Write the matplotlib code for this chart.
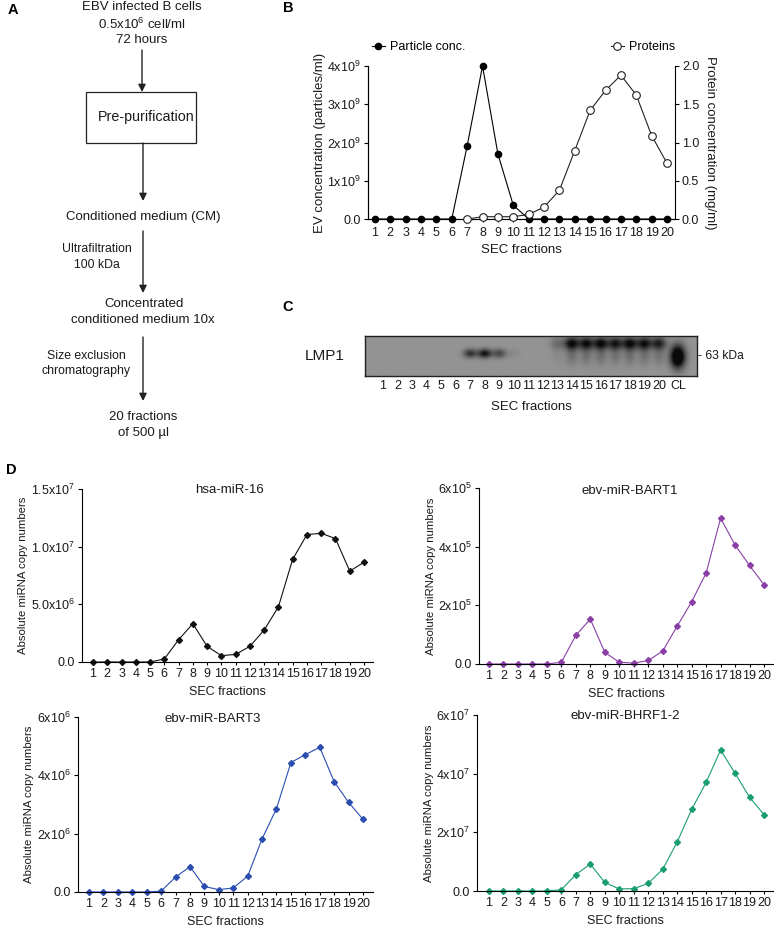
import numpy as np
import matplotlib
matplotlib.use('Agg')
import matplotlib.pyplot as plt
from matplotlib.patches import Rectangle

plt.rcParams['font.family'] = ['Liberation Sans', 'DejaVu Sans']
plt.rcParams['mathtext.fontset'] = 'custom'
plt.rcParams['mathtext.rm'] = 'Liberation Sans'
plt.rcParams['mathtext.it'] = 'Liberation Sans:italic'
plt.rcParams['mathtext.bf'] = 'Liberation Sans:bold'
plt.rcParams['mathtext.default'] = 'regular'
plt.rcParams['axes.linewidth'] = 0.8

# ---------------- data ----------------
fractions = list(range(1, 21))
frac_labels = [str(i) for i in fractions]

# Panel B
particle_conc = [0, 0, 0, 0, 0, 0, 1.91e9, 4.0e9, 1.70e9, 0.36e9,
                 0, 0, 0, 0, 0, 0, 0, 0, 0, 0]
protein_frac = list(range(7, 21))
protein_conc = [0.0, 0.03, 0.03, 0.03, 0.06, 0.155, 0.375, 0.895,
                1.42, 1.68, 1.88, 1.62, 1.09, 0.73]
b_left_ticks = [0, 1e9, 2e9, 3e9, 4e9]
b_left_labels = ['0.0', '1x10$^{9}$', '2x10$^{9}$', '3x10$^{9}$', '4x10$^{9}$']
b_right_ticks = [0, 0.5, 1.0, 1.5, 2.0]
b_right_labels = ['0.0', '0.5', '1.0', '1.5', '2.0']

# Panel C (western blot band intensities, 0..1)
blot_lanes = frac_labels + ['CL']
band_63kda = [0, 0, 0, 0, 0, 0, 0.7, 0.95, 0.55, 0.08,
              0, 0, 0, 0, 0, 0, 0, 0, 0, 0, 1.0]
band_upper = [0, 0, 0, 0, 0, 0, 0, 0, 0, 0,
              0, 0, 0.25, 0.9, 0.85, 0.9, 0.8, 0.9, 0.85, 0.75, 0]

# Panel D
mir16 = [0, 0, 0, 0, 0, 0.26e6, 1.93e6, 3.32e6, 1.36e6, 0.55e6,
         0.66e6, 1.36e6, 2.77e6, 4.79e6, 8.91e6, 11.05e6, 11.16e6, 10.7e6, 7.88e6, 8.65e6]
bart1 = [0, 0, 0, 0, 0, 0.06e5, 0.975e5, 1.53e5, 0.40e5, 0.06e5,
         0.03e5, 0.12e5, 0.44e5, 1.29e5, 2.12e5, 3.10e5, 4.97e5, 4.06e5, 3.36e5, 2.70e5]
bart3 = [0, 0, 0, 0, 0, 0.03e6, 0.51e6, 0.87e6, 0.19e6, 0.08e6,
         0.14e6, 0.54e6, 1.82e6, 2.86e6, 4.44e6, 4.71e6, 4.96e6, 3.78e6, 3.07e6, 2.49e6]
bhrf1 = [0, 0, 0, 0, 0, 0.045e7, 0.56e7, 0.92e7, 0.29e7, 0.07e7,
         0.08e7, 0.26e7, 0.74e7, 1.67e7, 2.78e7, 3.70e7, 4.81e7, 4.01e7, 3.20e7, 2.60e7]

d1_ticks = [0, 5e6, 1e7, 1.5e7]
d1_labels = ['0.0', '5.0x10$^{6}$', '1.0x10$^{7}$', '1.5x10$^{7}$']
d2_ticks = [0, 2e5, 4e5, 6e5]
d2_labels = ['0.0', '2x10$^{5}$', '4x10$^{5}$', '6x10$^{5}$']
d3_ticks = [0, 2e6, 4e6, 6e6]
d3_labels = ['0.0', '2x10$^{6}$', '4x10$^{6}$', '6x10$^{6}$']
d4_ticks = [0, 2e7, 4e7, 6e7]
d4_labels = ['0.0', '2x10$^{7}$', '4x10$^{7}$', '6x10$^{7}$']

# ---------------- figure ----------------
W, H = 774, 926
fig = plt.figure(figsize=(W / 100, H / 100), dpi=100)
TXT = '#1a1a1a'
FT = 9  # tick label size


def px(l, t, r, b):
    return [l / W, 1 - b / H, (r - l) / W, (b - t) / H]


# ---- Panel B ----
axB = fig.add_axes(px(368, 66, 675, 219))
axB2 = axB.twinx()
lp, = axB.plot(fractions, particle_conc, '-o', color='k', ms=4.5, lw=0.8,
               clip_on=False, zorder=3)
lq, = axB2.plot(protein_frac, protein_conc, '-o', color='#222222', mfc='white',
                mew=0.8, ms=5.5, lw=0.8, clip_on=False, zorder=4)
axB.set_xlim(0.55, 20.52)
axB.set_ylim(0, 4e9)
axB2.set_ylim(0, 2.0)
axB.set_xticks(fractions)
axB.set_xticklabels(frac_labels, fontsize=FT, color=TXT)
axB.set_yticks(b_left_ticks)
axB.set_yticklabels(b_left_labels, fontsize=FT, color=TXT)
axB2.set_yticks(b_right_ticks)
axB2.set_yticklabels(b_right_labels, fontsize=FT, color=TXT)
for a in (axB, axB2):
    a.spines['top'].set_visible(False)
axB.spines['right'].set_visible(False)
axB.tick_params(axis='x', length=2.5, width=0.8, pad=3)
axB.tick_params(axis='y', length=3, width=0.8, pad=2)
axB2.tick_params(axis='y', length=3, width=0.8, pad=2)
axB.set_xlabel('SEC fractions', fontsize=9.5, color=TXT, labelpad=4)
axB.set_ylabel('EV concentration (particles/ml)', fontsize=9.5, color=TXT, labelpad=1)
axB2.set_ylabel('Protein concentration (mg/ml)', fontsize=9.5, color=TXT,
                rotation=270, labelpad=12)
leg1 = axB2.legend(handles=[lp], labels=['Particle conc.'], loc='center left',
                   bbox_to_anchor=(372 / W, 1 - 47 / H), bbox_transform=fig.transFigure,
                   frameon=False, fontsize=9, handlelength=1.0, handletextpad=0.4,
                   borderpad=0, borderaxespad=0)
axB2.add_artist(leg1)
axB2.legend(handles=[lq], labels=['Proteins'], loc='center left',
            bbox_to_anchor=(611 / W, 1 - 47 / H), bbox_transform=fig.transFigure,
            frameon=False, fontsize=9, handlelength=1.0, handletextpad=0.4,
            borderpad=0, borderaxespad=0)

# ---- Panel C (blot) ----
lane_sp = 14.53
cx0 = 1 - 18 / lane_sp
cx1 = 20 + 38 / lane_sp
lane_x = list(fractions) + [20 + 19 / lane_sp]
axC = fig.add_axes(px(365, 336, 697, 376))
xs = np.linspace(cx0, cx1, 700)
ys = np.linspace(0, 1, 90)
XX, YY = np.meshgrid(xs, ys)
dark = np.zeros_like(XX)
for i, x0 in enumerate(lane_x):
    a = band_63kda[i]
    if a > 0:
        if blot_lanes[i] == 'CL':
            dark += 1.5 * a * np.exp(-((XX - x0) ** 2) / (2 * 0.36 ** 2)
                                     - ((YY - 0.47) ** 2) / (2 * 0.2 ** 2))
        else:
            dark += a * np.exp(-((XX - x0) ** 2) / (2 * 0.33 ** 2)
                               - ((YY - 0.55) ** 2) / (2 * 0.08 ** 2))
    b = band_upper[i]
    if b > 0:
        dark += 1.1 * b * np.exp(-((XX - x0) ** 2) / (2 * 0.36 ** 2)
                                 - ((YY - 0.8) ** 2) / (2 * 0.11 ** 2))
        dark += 0.3 * b * np.exp(-((XX - x0) ** 2) / (2 * 0.3 ** 2)
                                 - ((YY - 0.5) ** 2) / (2 * 0.17 ** 2))
dark = np.clip(dark, 0, 1)
img = 0.58 * (1 - 0.93 * dark)
axC.imshow(img, cmap='gray', vmin=0, vmax=1, extent=[cx0, cx1, 0, 1],
           origin='lower', aspect='auto', interpolation='bilinear')
axC.set_xlim(cx0, cx1)
axC.set_ylim(0, 1)
axC.set_xticks(lane_x)
axC.set_xticklabels(blot_lanes, fontsize=FT, color=TXT)
axC.set_yticks([])
axC.tick_params(axis='x', length=0, pad=3)
for s in axC.spines.values():
    s.set_linewidth(1.0)
    s.set_color('#202020')
axC.set_xlabel('SEC fractions', fontsize=9.5, color=TXT, labelpad=6)


# ---- Panel D ----
def dpanel(rect, xlim, vals, color, ticks, labels):
    ax = fig.add_axes(px(*rect))
    ax.plot(fractions, vals, '-D', color=color, ms=3, lw=0.8, clip_on=False)
    ax.set_xlim(*xlim)
    ax.set_ylim(0, ticks[-1])
    ax.set_xticks(fractions)
    ax.set_xticklabels(frac_labels, fontsize=FT, color=TXT)
    ax.set_yticks(ticks)
    ax.set_yticklabels(labels, fontsize=FT, color=TXT)
    ax.spines['top'].set_visible(False)
    ax.spines['right'].set_visible(False)
    ax.tick_params(axis='x', length=2.5, width=0.8, pad=2)
    ax.tick_params(axis='y', length=3, width=0.8, pad=2)
    ax.set_xlabel('SEC fractions', fontsize=9, color=TXT, labelpad=4)
    ax.set_ylabel('Absolute miRNA copy numbers', fontsize=8.2, color=TXT, labelpad=2)
    return ax


dpanel((82, 489, 373, 662), (0.23, 20.63), mir16, '#111111', d1_ticks, d1_labels)
dpanel((479, 488, 774, 664), (0.31, 20.69), bart1, '#8a3fa6', d2_ticks, d2_labels)
dpanel((78, 717, 373, 892), (0.24, 20.69), bart3, '#2a4db0', d3_ticks, d3_labels)
dpanel((477, 715, 774, 891), (0.17, 20.69), bhrf1, '#1a9e6e', d4_ticks, d4_labels)

# ---- overlay: panel A, letters, annotations ----
ov = fig.add_axes([0, 0, 1, 1])
ov.set_xlim(0, W)
ov.set_ylim(H, 0)
ov.axis('off')

for letter, (x, y) in {'A': (8, 10), 'B': (283, 8), 'C': (282, 307), 'D': (6, 470)}.items():
    ov.text(x, y, letter, fontsize=10.5, fontweight='bold', ha='left', va='center', color='k')

fsA = 9.5
fsS = 8.8
ov.text(142, 7, 'EBV infected B cells', fontsize=fsA, ha='center', va='center', color=TXT)
ov.text(142, 24, '0.5x10$^{6}$ cell/ml', fontsize=fsA, ha='center', va='center', color=TXT)
ov.text(142, 40, '72 hours', fontsize=fsA, ha='center', va='center', color=TXT)
ov.add_patch(Rectangle((86, 92), 110, 51, fill=False, lw=0.9, edgecolor='#222222'))
ov.text(146, 117, 'Pre-purification', fontsize=10.3, ha='center', va='center', color=TXT)
ov.text(143, 217, 'Conditioned medium (CM)', fontsize=fsA, ha='center', va='center', color=TXT)
ov.text(97, 249, 'Ultrafiltration', fontsize=fsS, ha='center', va='center', color=TXT)
ov.text(97, 265, '100 kDa', fontsize=fsS, ha='center', va='center', color=TXT)
ov.text(144, 304, 'Concentrated', fontsize=fsA, ha='center', va='center', color=TXT)
ov.text(143, 320, 'conditioned medium 10x', fontsize=fsA, ha='center', va='center', color=TXT)
ov.text(86, 356, 'Size exclusion', fontsize=fsS, ha='center', va='center', color=TXT)
ov.text(86, 371, 'chromatography', fontsize=fsS, ha='center', va='center', color=TXT)
ov.text(143, 417, '20 fractions', fontsize=fsA, ha='center', va='center', color=TXT)
ov.text(143, 433, 'of 500 µl', fontsize=fsA, ha='center', va='center', color=TXT)

for x, y0, y1 in [(142, 50, 92), (143, 143, 201), (143, 231, 293), (143, 337, 401)]:
    ov.annotate('', xy=(x, y1), xytext=(x, y0),
                arrowprops=dict(arrowstyle='-|>', lw=1.0, color='#222222',
                                mutation_scale=11, shrinkA=0, shrinkB=0))

ov.text(305, 356, 'LMP1', fontsize=11, ha='left', va='center', color=TXT)
ov.text(698, 356, '- 63 kDa', fontsize=8.7, ha='left', va='center', color=TXT)

ov.text(230, 490, 'hsa-miR-16', fontsize=9.5, ha='center', va='center', color=TXT)
ov.text(630, 491, 'ebv-miR-BART1', fontsize=9.5, ha='center', va='center', color=TXT)
ov.text(213, 719, 'ebv-miR-BART3', fontsize=9.5, ha='center', va='center', color=TXT)
ov.text(625, 716, 'ebv-miR-BHRF1-2', fontsize=9.5, ha='center', va='center', color=TXT)

fig.savefig('out.png', dpi=100)
